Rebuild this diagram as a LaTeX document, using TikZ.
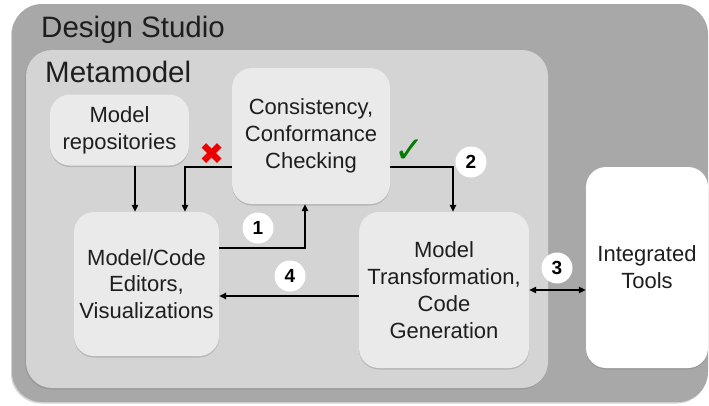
\documentclass[tikz,border=0pt]{standalone}
\usepackage{fontspec}
\setmainfont{Liberation Sans}
\newfontfamily\symfont{DejaVu Sans}
\usetikzlibrary{arrows.meta,shadows,calc}
\definecolor{studiogray}{RGB}{168,168,168}
\definecolor{metagray}{RGB}{212,212,212}
\definecolor{boxgray}{RGB}{234,234,234}
\definecolor{txt}{RGB}{30,30,30}
\definecolor{okgreen}{RGB}{0,125,0}
\definecolor{badred}{RGB}{235,0,0}
\tikzset{
  container/.style={rounded corners=#1, inner sep=0pt,
    drop shadow={shadow xshift=-1pt, shadow yshift=-1.5pt, opacity=0.35}},
  procbox/.style={fill=boxgray, rounded corners=20pt, inner sep=0pt, align=center,
    text=txt, font=\fontsize{22}{26.8}\selectfont,
    drop shadow={shadow xshift=0pt, shadow yshift=-1.5pt, opacity=0.35}},
  title/.style={anchor=base west, inner sep=0pt, text=txt, font=\fontsize{29.5}{33}\selectfont},
  arr/.style={draw=black, line width=1.4pt, -{Triangle[length=7pt,width=6.5pt]}},
  dblarr/.style={draw=black, line width=1.4pt, {Triangle[length=7pt,width=6.5pt]}-{Triangle[length=7pt,width=6.5pt]}},
  numcirc/.style={circle, fill=white, minimum size=31pt, inner sep=0pt,
    font=\fontsize{19}{19}\selectfont\bfseries, text=black},
}
\begin{document}
\begin{tikzpicture}[x=1pt,y=-1pt]
\useasboundingbox (0,0) rectangle (709,405);
% containers
\node[container=30pt, fill=studiogray, minimum width=696pt, minimum height=398pt] (studio) at (360,203) {};
\node[title] (studiotitle) at (41,37) {Design Studio};
\node[container=26pt, fill=metagray, minimum width=522pt, minimum height=338pt] (meta) at (287,219) {};
\node[title] (metatitle) at (45,82) {Metamodel};
% boxes
\node[procbox, minimum width=139pt, minimum height=71pt] (repos) at (119.5,130) {Model\\repositories};
\node[procbox, minimum width=158pt, minimum height=136pt] (check) at (311,136) {Consistency,\\Conformance\\Checking};
\node[procbox, minimum width=145pt, minimum height=144pt] (editors) at (146.5,284) {Model/Code\\Editors,\\Visualizations};
\node[procbox, minimum width=170pt, minimum height=156pt] (transform) at (444,290) {Model\\Transformation,\\Code\\Generation};
\node[procbox, fill=white, minimum width=122pt, minimum height=201pt] (tools) at (647,267.5) {Integrated\\Tools};
% connectors
\draw[arr] ([xshift=15.5pt]repos.south) -- ([xshift=15.5pt]repos.south |- editors.north);
\draw[arr] ([yshift=-31pt]check.west) -| ([xshift=38.5pt]editors.north);
\draw[arr] ([yshift=-31pt]check.east) -| ([xshift=9pt]transform.north);
\draw[arr] ([yshift=36pt]editors.east) -| ([xshift=-6pt]check.south);
\draw[arr] ([yshift=-6pt]transform.west) -- ([yshift=-6pt]transform.west -| editors.east);
\draw[dblarr] (transform.east) -- (transform.east -| tools.west);
% marks
\node[text=badred, inner sep=0pt, font=\symfont\fontsize{30}{30}\selectfont] (cross) at (212.5,154) {✖};
\node[text=okgreen, inner sep=0pt, font=\symfont\fontsize{36}{36}\selectfont] (tick) at (410,151) {✓};
% numbers
\node[numcirc] (n1) at (258,228) {1};
\node[numcirc] (n2) at (471,162) {2};
\node[numcirc] (n3) at (557,268) {3};
\node[numcirc] (n4) at (290,276) {4};
\end{tikzpicture}
\end{document}
